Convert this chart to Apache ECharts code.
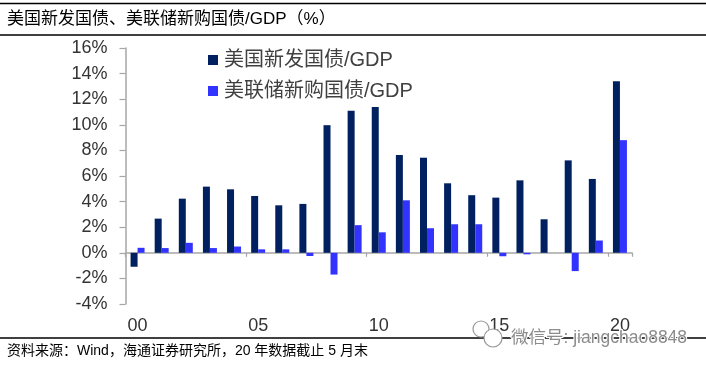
<!DOCTYPE html>
<html>
<head>
<meta charset="utf-8">
<script src="https://cdn.jsdelivr.net/npm/echarts@6/dist/echarts.min.js"></script>
<style>html,body{margin:0;padding:0;background:#fff}#c{width:706px;height:367px}</style>
</head>
<body>
<div id="c"></div>
<script>
const categories = ['00','01','02','03','04','05','06','07','08','09','10','11','12','13','14','15','16','17','18','19','20'];
const newIssuance = [-1.09,2.67,4.23,5.17,4.96,4.44,3.71,3.82,9.97,11.1,11.4,7.64,7.43,5.43,4.5,4.31,5.66,2.62,7.22,5.77,13.4];
const fedPurchases = [0.39,0.37,0.78,0.37,0.49,0.27,0.27,-0.25,-1.7,2.16,1.6,4.1,1.92,2.23,2.23,-0.27,-0.12,0,-1.43,0.96,8.8];
const seriesNames = ['美国新发国债/GDP','美联储新购国债/GDP'];
const titleText = '美国新发国债、美联储新购国债/GDP（%）';
const sourceText = '资料来源：Wind，海通证券研究所，20 年数据截止 5 月末';
const watermarkText = '微信号: jiangchao8848';

const FONT = '"Liberation Sans","Noto Sans CJK SC",sans-serif';
const chart = echarts.init(document.getElementById('c'), null, {renderer:'canvas'});
const rule = y => ({type:'line',shape:{x1:0,y1:y,x2:706,y2:y},style:{stroke:'#000',lineWidth:1.3},z:5});
chart.setOption({
  animation:false,
  backgroundColor:'#fff',
  grid:{left:125.5,right:74,top:48,bottom:63,containLabel:false,outerBoundsMode:'none'},
  legend:{
    orient:'vertical',left:203,top:45,itemWidth:10,itemHeight:10,itemGap:11,
    selectedMode:false,icon:'rect',
    textStyle:{fontFamily:FONT,fontSize:20,color:'#404040',padding:[0,0,0,1]},
    data:seriesNames
  },
  xAxis:{
    type:'category',data:categories,
    axisLine:{onZero:true,lineStyle:{color:'#a6a6a6',width:1.5}},
    axisTick:{show:true,interval:4,length:4,lineStyle:{color:'#a6a6a6',width:1.2}},
    axisLabel:{interval:4,margin:13,fontFamily:FONT,fontSize:18,color:'#333'},
    splitLine:{show:false}
  },
  yAxis:{
    type:'value',min:-4,max:16,interval:2,
    axisLine:{show:true,lineStyle:{color:'#a6a6a6',width:1.5}},
    axisTick:{show:true,length:6,lineStyle:{color:'#a6a6a6',width:1.2}},
    axisLabel:{margin:18,fontFamily:FONT,fontSize:18,color:'#333',formatter:'{value}%'},
    splitLine:{show:false}
  },
  series:[
    {name:seriesNames[0],type:'bar',data:newIssuance,barWidth:7,barGap:0,itemStyle:{color:'#002060'}},
    {name:seriesNames[1],type:'bar',data:fedPurchases,barWidth:7,barGap:0,itemStyle:{color:'#3333ff'}}
  ],
  graphic:[
    rule(3.5),rule(35),rule(338),
    {type:'text',left:7,top:11,style:{text:titleText,font:'17px '+FONT,fill:'#000'},z:6},
    {type:'text',left:7,top:344,style:{text:sourceText,font:'14px '+FONT,fill:'#000'},z:6},
    {type:'circle',shape:{cx:481,cy:329,r:8},style:{fill:'#fff',stroke:'#999',lineWidth:1.2},z:7},
    {type:'circle',shape:{cx:493,cy:338,r:9},style:{fill:'#fff',stroke:'#999',lineWidth:1.2},z:7},
    {type:'text',left:510,top:328,style:{text:watermarkText,font:'17.5px '+FONT,fill:'#8c8c8c',stroke:'#fff',lineWidth:2},z:7}
  ]
});
</script>
</body>
</html>
